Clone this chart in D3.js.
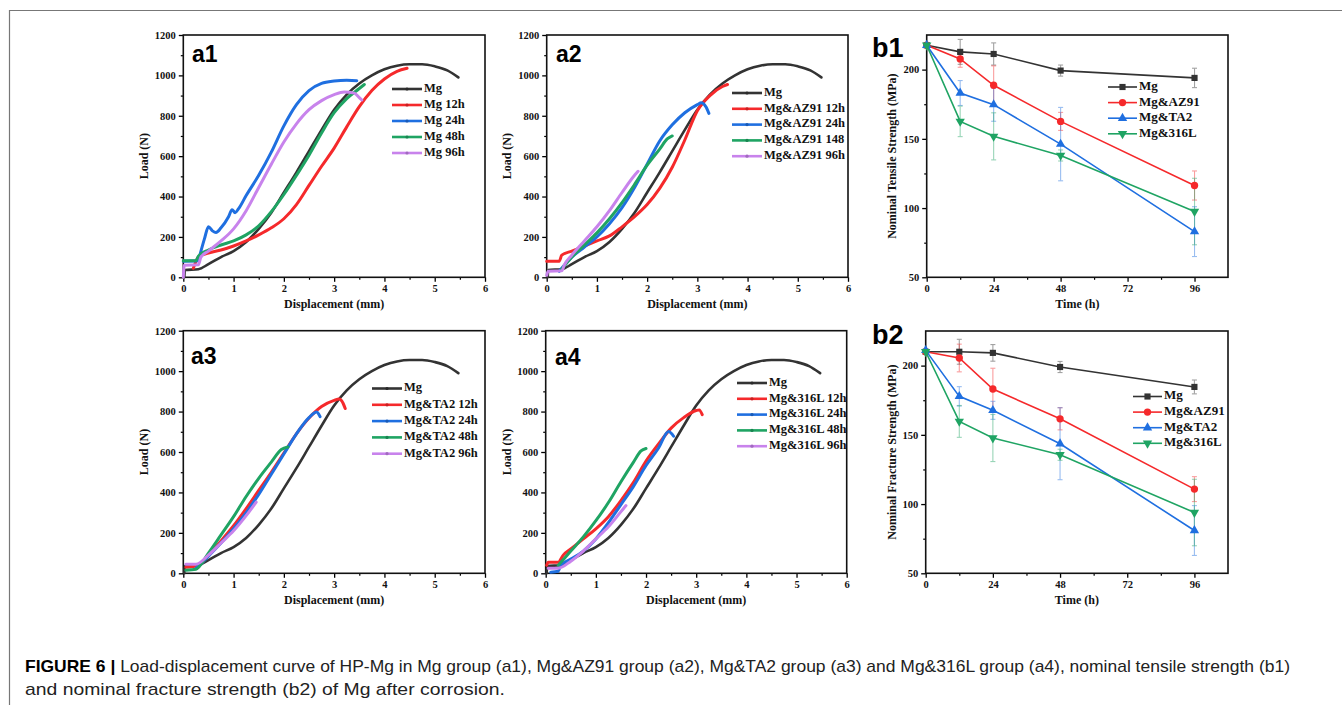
<!DOCTYPE html>
<html lang="en">
<head>
<meta charset="UTF-8">
<title>Figure 6</title>
<script src="https://d3js.org/d3.v7.min.js"></script>
<style>
    body { margin: 0; background: #fff; }
    .tick text, .axis-title, .legend text {
        font-family: 'Liberation Serif', 'Times New Roman', serif;
        font-weight: bold;
        fill: #111;
    }
    .panel-label { font-family: 'Liberation Sans', Arial, sans-serif; font-weight: bold; fill: #000; }
    .caption { font-family: 'Liberation Sans', Arial, Helvetica, sans-serif; fill: #222; }
</style>
</head>
<body>
<svg id="fig" width="1342" height="705"></svg>
<script>
    // ---- data: load (N) vs displacement (mm) ----
    // reference Mg curve, same in every load panel
    const mgRef = [[0.02,0],[0.03,36],[0.3,40],[0.5,65],[0.75,100],[1.0,130],[1.25,175],[1.5,240],[1.75,320],[2.0,420],[2.25,520],[2.5,625],[2.75,730],[3.0,830],[3.25,905],[3.5,960],[3.75,1000],[4.0,1030],[4.25,1048],[4.5,1055],[4.75,1055],[5.0,1045],[5.25,1025],[5.47,990]];

    // a1 - Mg group
    const mg12h = [[0.2,45],[0.3,100],[0.5,120],[0.75,135],[1.0,155],[1.25,180],[1.5,210],[1.75,245],[2.0,290],[2.25,360],[2.5,455],[2.75,550],[3.0,640],[3.25,745],[3.5,845],[3.75,925],[4.0,982],[4.25,1020],[4.45,1035]];
    const mg24h = [[0,80],[0.3,82],[0.33,110],[0.42,190],[0.5,250],[0.58,230],[0.65,222],[0.75,245],[0.9,300],[0.97,335],[1.03,320],[1.1,340],[1.25,405],[1.5,505],[1.75,620],[2.0,750],[2.25,855],[2.5,925],[2.75,960],[3.0,972],[3.25,976],[3.45,974]];
    const mg48h = [[0,82],[0.25,82],[0.3,105],[0.5,135],[0.75,160],[1.0,180],[1.25,210],[1.5,255],[1.75,325],[2.0,410],[2.25,505],[2.5,605],[2.75,715],[3.0,815],[3.25,885],[3.5,935],[3.6,955]];
    const mg96h = [[0,0],[0.02,60],[0.3,62],[0.35,100],[0.5,130],[0.75,180],[1.0,240],[1.25,330],[1.5,445],[1.75,560],[2.0,670],[2.25,760],[2.5,830],[2.75,875],[3.0,905],[3.2,918],[3.4,912],[3.5,890],[3.55,878]];

    // a2 - Mg&AZ91 group
    const az12h = [[0,80],[0.25,80],[0.3,110],[0.5,130],[0.75,155],[1.0,180],[1.25,205],[1.5,250],[1.75,300],[2.0,360],[2.25,440],[2.5,545],[2.75,680],[3.0,825],[3.25,900],[3.5,945],[3.6,955]];
    const az24h = [[0.25,30],[0.35,60],[0.5,100],[0.75,150],[1.0,200],[1.25,265],[1.5,345],[1.75,445],[2.0,560],[2.25,675],[2.5,755],[2.75,815],[3.0,855],[3.08,865],[3.17,845],[3.23,812]];
    const az148 = [[0.3,40],[0.5,100],[0.75,160],[1.0,220],[1.25,290],[1.5,370],[1.75,460],[2.0,555],[2.25,635],[2.4,685],[2.5,700]];
    const az96h = [[0,10],[0.03,30],[0.3,32],[0.35,60],[0.5,110],[0.75,180],[1.0,250],[1.25,330],[1.5,420],[1.75,505],[1.82,525]];

    // a3 - Mg&TA2 group
    const ta12h = [[0.05,30],[0.3,40],[0.5,90],[0.75,160],[1.0,235],[1.25,320],[1.5,410],[1.75,500],[2.0,595],[2.25,690],[2.5,768],[2.75,825],[3.0,855],[3.1,862],[3.18,840],[3.22,815]];
    const ta24h = [[0.25,25],[0.3,35],[0.5,85],[0.75,150],[1.0,220],[1.25,300],[1.5,390],[1.75,490],[2.0,590],[2.25,690],[2.5,770],[2.65,798],[2.72,775]];
    const ta48h = [[0.05,15],[0.25,20],[0.5,100],[0.75,190],[1.0,280],[1.25,380],[1.5,470],[1.75,550],[1.95,612],[2.08,625]];
    const ta96h = [[0.05,45],[0.25,45],[0.5,90],[0.75,150],[1.0,210],[1.25,285],[1.45,352]];

    // a4 - Mg&316L group
    const ss12h = [[0.02,40],[0.05,55],[0.25,55],[0.35,90],[0.5,120],[0.75,170],[1.0,220],[1.25,280],[1.5,360],[1.75,450],[2.0,555],[2.25,640],[2.5,718],[2.75,770],[3.0,805],[3.06,808],[3.12,785]];
    const ss24h = [[0.1,5],[0.25,10],[0.3,40],[0.5,70],[0.75,110],[1.0,170],[1.25,250],[1.5,340],[1.75,430],[2.0,533],[2.25,620],[2.45,702],[2.55,678]];
    const ss48h = [[0.25,40],[0.5,110],[0.75,180],[1.0,260],[1.25,350],[1.5,453],[1.75,550],[1.9,605],[2.0,617]];
    const ss96h = [[0.05,25],[0.25,25],[0.5,60],[0.75,110],[1.0,170],[1.25,230],[1.5,305],[1.6,335]];

    // ---- data: strength (MPa) vs time (h) ----
    const times = [0, 12, 24, 48, 96];
    const tsMg = [217.6, 212.8, 211.3, 199.3, 194.0];
    const tsMgErr = [0, 9, 8, 4, 7];
    const tsAZ = [217.6, 207.7, 188.7, 162.6, 116.3];
    const tsAZErr = [0, 6, 14, 6.5, 10.5];
    const tsTA = [217.6, 183.1, 174.7, 146.2, 83.0];
    const tsTAErr = [0, 9, 12, 26.5, 18];
    const tsSS = [217.6, 162.6, 151.8, 138.0, 97.5];
    const tsSSErr = [0, 11, 17, 4, 24];

    const fsMg = [210.0, 210.0, 209.2, 199.0, 184.6];
    const fsMgErr = [0, 9, 6, 4, 5];
    const fsAZ = [210.0, 205.5, 183.1, 161.6, 110.8];
    const fsAZErr = [0, 10, 15, 8, 9];
    const fsTA = [211.0, 177.8, 167.7, 143.6, 80.9];
    const fsTAErr = [0, 7, 6.5, 26, 18];
    const fsSS = [210.0, 159.7, 147.7, 135.6, 93.9];
    const fsSSErr = [0, 11.5, 17, 4, 24];

    const dispTicks = [0, 1, 2, 3, 4, 5, 6];
    const loadTicks = [0, 200, 400, 600, 800, 1000, 1200];
    const timeTicks = [0, 24, 48, 72, 96];
    const strengthTicks = [50, 100, 150, 200];

    const colors = ['#333333', '#f5292b', '#1f6fe0', '#1fa463', '#c883ec'];

    const svg = d3.select('#fig');
    const serif = "'Liberation Serif', 'Times New Roman', serif";

    // outer figure frame (top and left only)
    svg.append('path')
        .attr('d', 'M9.5,705 V10.5 H1342')
        .attr('fill', 'none').attr('stroke', '#777').attr('stroke-width', 1.2);

    function frame(g, x, y, xMinor, yMinor, xTicks, yTicks, xTitle, yTitle, titleX) {
        const [x0, x1] = x.range();
        const [y0, y1] = y.range();
        // minor ticks
        g.append('g').attr('transform', `translate(0,${y0})`)
            .call(d3.axisBottom(x).tickValues(xMinor).tickSize(2.5).tickFormat(''))
            .call(a => a.select('.domain').remove())
            .selectAll('line').attr('stroke-width', 1.2);
        g.append('g').attr('transform', `translate(${x0},0)`)
            .call(d3.axisLeft(y).tickValues(yMinor).tickSize(2.5).tickFormat(''))
            .call(a => a.select('.domain').remove())
            .selectAll('line').attr('stroke-width', 1.2);
        // major ticks
        const xa = g.append('g').attr('transform', `translate(0,${y0})`)
            .call(d3.axisBottom(x).tickValues(xTicks).tickFormat(d3.format('d')).tickSize(4.5).tickPadding(3));
        const ya = g.append('g').attr('transform', `translate(${x0},0)`)
            .call(d3.axisLeft(y).tickValues(yTicks).tickFormat(d3.format('d')).tickSize(4.5).tickPadding(3));
        [xa, ya].forEach(a => {
            a.select('.domain').remove();
            a.selectAll('line').attr('stroke-width', 1.3);
            a.selectAll('text').style('font-size', '10.5px').style('font-family', serif);
        });
        g.append('rect')
            .attr('x', x0).attr('y', y1)
            .attr('width', x1 - x0).attr('height', y0 - y1)
            .attr('fill', 'none').attr('stroke', '#111').attr('stroke-width', 1.6);
        g.append('text').attr('class', 'axis-title')
            .attr('x', (x0 + x1) / 2).attr('y', y0 + 30.5)
            .attr('text-anchor', 'middle').style('font-size', '12px')
            .text(xTitle);
        g.append('text').attr('class', 'axis-title')
            .attr('transform', `translate(${titleX},${(y0 + y1) / 2}) rotate(-90)`)
            .attr('text-anchor', 'middle').attr('dominant-baseline', 'middle')
            .style('font-size', '12px')
            .text(yTitle);
    }

    // ---- load-displacement panels ----
    const loadPanels = [
        {label: 'a1', box: [183.3, 485, 35, 277.3], labelPos: [192, 62], titleX: 145,
         curves: [mgRef, mg12h, mg24h, mg48h, mg96h],
         names: ['Mg', 'Mg 12h', 'Mg 24h', 'Mg 48h', 'Mg 96h'],
         legend: [392, 89, 16]},
        {label: 'a2', box: [546.7, 848, 35, 277.3], labelPos: [556, 62], titleX: 508,
         curves: [mgRef, az12h, az24h, az148, az96h],
         names: ['Mg', 'Mg&AZ91 12h', 'Mg&AZ91 24h', 'Mg&AZ91 148', 'Mg&AZ91 96h'],
         legend: [732, 93, 15.8]},
        {label: 'a3', box: [183.3, 485, 330.7, 573.3], labelPos: [191, 364], titleX: 145,
         curves: [mgRef, ta12h, ta24h, ta48h, ta96h],
         names: ['Mg', 'Mg&TA2 12h', 'Mg&TA2 24h', 'Mg&TA2 48h', 'Mg&TA2 96h'],
         legend: [372, 388.5, 16.3]},
        {label: 'a4', box: [545.7, 846.7, 330.7, 573.3], labelPos: [555, 365], titleX: 508,
         curves: [mgRef, ss12h, ss24h, ss48h, ss96h],
         names: ['Mg', 'Mg&316L 12h', 'Mg&316L 24h', 'Mg&316L 48h', 'Mg&316L 96h'],
         legend: [737, 383, 15.8]}
    ];

    loadPanels.forEach(p => {
        const [l, r, t, b] = p.box;
        const x = d3.scaleLinear().domain([0, 6]).range([l, r]);
        const y = d3.scaleLinear().domain([0, 1200]).range([b, t]);
        const g = svg.append('g');
        frame(g, x, y, d3.range(0.5, 6, 1), d3.range(100, 1200, 200),
              dispTicks, loadTicks, 'Displacement (mm)', 'Load (N)', p.titleX);

        const line = d3.line().x(d => x(d[0])).y(d => y(d[1])).curve(d3.curveMonotoneX);
        p.curves.forEach((c, i) => {
            g.append('path').datum(c)
                .attr('d', line)
                .attr('fill', 'none')
                .attr('stroke', colors[i])
                .attr('stroke-width', i === 0 ? 2.6 : 3)
                .attr('stroke-linejoin', 'round')
                .attr('stroke-linecap', 'round');
        });

        const [lx, ly, dy] = p.legend;
        const lg = g.append('g').attr('class', 'legend');
        p.names.forEach((n, i) => {
            const yy = ly + i * dy;
            lg.append('line').attr('x1', lx).attr('x2', lx + 30).attr('y1', yy).attr('y2', yy)
                .attr('stroke', colors[i]).attr('stroke-width', 2.6);
            lg.append('circle').attr('cx', lx + 15).attr('cy', yy).attr('r', 1.6)
                .attr('fill', d3.color(colors[i]).darker(0.6));
            lg.append('text').attr('x', lx + 32).attr('y', yy)
                .attr('dominant-baseline', 'middle')
                .style('font-size', '12.5px')
                .text(n);
        });

        svg.append('text').attr('class', 'panel-label')
            .attr('x', p.labelPos[0]).attr('y', p.labelPos[1])
            .style('font-size', '23px').text(p.label);
    });

    // ---- strength-time panels ----
    const symbols = [d3.symbolSquare, d3.symbolCircle, d3.symbolTriangle, d3.symbolTriangle];
    const bNames = ['Mg', 'Mg&AZ91', 'Mg&TA2', 'Mg&316L'];
    const strengthPanels = [
        {label: 'b1', box: [926.7, 1228, 35, 277.3], labelPos: [872, 57], titleX: 893,
         title: 'Nominal Tensile Strength (MPa)',
         series: [tsMg, tsAZ, tsTA, tsSS], errs: [tsMgErr, tsAZErr, tsTAErr, tsSSErr],
         legend: [1108, 87, 15.6]},
        {label: 'b2', box: [925.7, 1228, 331, 573.3], labelPos: [872, 343.5], titleX: 893,
         title: 'Nominal Fracture Strength (MPa)',
         series: [fsMg, fsAZ, fsTA, fsSS], errs: [fsMgErr, fsAZErr, fsTAErr, fsSSErr],
         legend: [1133, 396.5, 15.6]}
    ];

    function marker(sel, i, cx, cy) {
        sel.append('path')
            .attr('d', d3.symbol().type(symbols[i]).size(i === 1 ? 42 : 38)())
            .attr('transform', `translate(${cx},${cy})` + (i === 3 ? ' rotate(180)' : ''))
            .attr('fill', colors[i]);
    }

    strengthPanels.forEach(p => {
        const [l, r, t, b] = p.box;
        const x = d3.scaleLinear().domain([0, 108]).range([l, r]);
        const y = d3.scaleLinear().domain([50, 225]).range([b, t]);
        const g = svg.append('g');
        frame(g, x, y, [12, 36, 60, 84], [75, 125, 175],
              timeTicks, strengthTicks, 'Time (h)', p.title, p.titleX);

        // error bars first, faint
        p.series.forEach((s, i) => {
            const eg = g.append('g').attr('stroke', colors[i]).attr('opacity', 0.45).attr('stroke-width', 1.1);
            s.forEach((v, k) => {
                const e = p.errs[i][k];
                if (!e) return;
                const cx = x(times[k]);
                eg.append('line').attr('x1', cx).attr('x2', cx).attr('y1', y(v - e)).attr('y2', y(v + e));
                [v - e, v + e].forEach(w => {
                    eg.append('line').attr('x1', cx - 2.5).attr('x2', cx + 2.5).attr('y1', y(w)).attr('y2', y(w));
                });
            });
        });

        const line = d3.line().x((d, k) => x(times[k])).y(d => y(d));
        p.series.forEach((s, i) => {
            g.append('path').datum(s)
                .attr('d', line)
                .attr('fill', 'none')
                .attr('stroke', colors[i])
                .attr('stroke-width', 1.6);
            s.forEach((v, k) => marker(g, i, x(times[k]), y(v)));
        });

        const [lx, ly, dy] = p.legend;
        const lg = g.append('g').attr('class', 'legend');
        bNames.forEach((n, i) => {
            const yy = ly + i * dy;
            lg.append('line').attr('x1', lx).attr('x2', lx + 29).attr('y1', yy).attr('y2', yy)
                .attr('stroke', colors[i]).attr('stroke-width', 1.6);
            marker(lg, i, lx + 14.5, yy);
            lg.append('text').attr('x', lx + 31).attr('y', yy)
                .attr('dominant-baseline', 'middle')
                .style('font-size', '13px')
                .text(n);
        });

        svg.append('text').attr('class', 'panel-label')
            .attr('x', p.labelPos[0]).attr('y', p.labelPos[1])
            .style('font-size', '27px').text(p.label);
    });

    // ---- caption ----
    const cap1 = svg.append('text').attr('class', 'caption')
        .attr('x', 25).attr('y', 671.5).style('font-size', '17px');
    cap1.append('tspan').style('font-weight', 'bold').attr('fill', '#000').text('FIGURE 6 | ');
    cap1.append('tspan')
        .text('Load-displacement curve of HP-Mg in Mg group (a1), Mg&AZ91 group (a2), Mg&TA2 group (a3) and Mg&316L group (a4), nominal tensile strength (b1)');
    cap1.attr('textLength', 1265).attr('lengthAdjust', 'spacingAndGlyphs');

    svg.append('text').attr('class', 'caption')
        .attr('x', 25).attr('y', 695).style('font-size', '17px')
        .attr('textLength', 480).attr('lengthAdjust', 'spacingAndGlyphs')
        .text('and nominal fracture strength (b2) of Mg after corrosion.');
</script>
</body>
</html>
